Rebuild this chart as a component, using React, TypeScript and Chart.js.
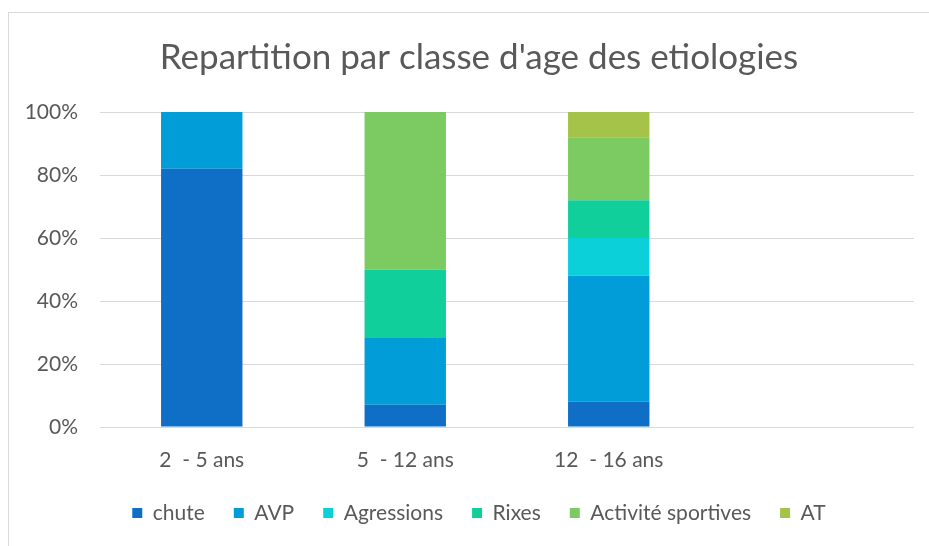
import React, { useEffect, useRef } from "react";
import { Chart, registerables } from "chart.js";

Chart.register(...registerables);

const categories = ["2  - 5 ans", "5  - 12 ans", "12  - 16 ans", ""];
const chute = [82, 7.1, 8, null];
const avp = [18, 21.4, 40, null];
const agressions = [0, 0, 12, null];
const rixes = [0, 21.4, 12, null];
const activite = [0, 50.1, 20, null];
const at = [0, 0, 8, null];
const yTicks = [0, 20, 40, 60, 80, 100];

const seriesNames = ["chute", "AVP", "Agressions", "Rixes", "Activité sportives", "AT"];
const seriesValues = [chute, avp, agressions, rixes, activite, at];
const seriesColors = ["#0F6FC6", "#009DD9", "#0BD0D9", "#10CF9B", "#7CCA62", "#A5C249"];

const FONT = "Lato, 'Open Sans', sans-serif";
const TEXT = "#595959";

export default function App() {
  const ref = useRef<HTMLCanvasElement | null>(null);

  useEffect(() => {
    if (!ref.current) return;
    const chart = new Chart(ref.current, {
      type: "bar",
      data: {
        labels: categories,
        datasets: seriesNames.map((name, i) => ({
          label: name,
          data: seriesValues[i] as any,
          backgroundColor: seriesColors[i],
          borderWidth: 0,
          categoryPercentage: 0.4,
          barPercentage: 1,
        })),
      },
      options: {
        responsive: false,
        animation: false,
        layout: { padding: { top: 0, left: 0, right: 0, bottom: 12.5 } },
        plugins: {
          title: {
            display: true,
            text: "Repartition par classe d'age des etiologies",
            color: TEXT,
            font: { family: FONT, size: 35, weight: "normal" as any, lineHeight: 1.2 },
            padding: { top: 24, bottom: 33 },
          },
          legend: {
            position: "bottom",
            labels: {
              color: TEXT,
              font: { family: FONT, size: 21 },
              boxWidth: 10,
              boxHeight: 10,
              padding: 29,
            },
          },
          tooltip: { enabled: false },
        },
        scales: {
          x: {
            stacked: true,
            afterFit: (s: any) => {
              s.height = 46.5;
            },
            grid: { display: false, drawTicks: false },
            border: { display: false },
            ticks: {
              color: TEXT,
              font: { family: FONT, size: 21, lineHeight: 1.2 },
              padding: 20.4,
              maxRotation: 0,
              autoSkip: false,
            },
          },
          y: {
            stacked: true,
            min: 0,
            max: 100,
            afterFit: (s: any) => {
              s.width = 91;
            },
            afterBuildTicks: (s: any) => {
              s.ticks = yTicks.map((v) => ({ value: v }));
            },
            grid: { color: "#D9D9D9", lineWidth: 1, drawTicks: false },
            border: { display: false },
            ticks: {
              color: TEXT,
              font: { family: FONT, size: 21 },
              padding: 22,
              callback: (v: any) => v + "%",
            },
          },
          y2: {
            type: "linear",
            position: "right",
            display: true,
            afterFit: (s: any) => {
              s.width = 35;
            },
            grid: { display: false, drawTicks: false },
            border: { display: false },
            ticks: { display: false },
          },
        },
      },
    });
    return () => chart.destroy();
  }, []);

  return (
    <div style={{ position: "fixed", left: 0, top: 0, width: 929, height: 546, overflow: "hidden" }}>
      <div
        style={{
          position: "absolute",
          left: 8,
          top: 12,
          width: 1000,
          height: 1000,
          borderTop: "1px solid #D9D9D9",
          borderLeft: "1px solid #D9D9D9",
          boxSizing: "border-box",
        }}
      />
      <canvas
        ref={ref}
        width={940}
        height={533}
        style={{ position: "absolute", left: 9, top: 13, width: 940, height: 533, display: "block" }}
      />
    </div>
  );
}
